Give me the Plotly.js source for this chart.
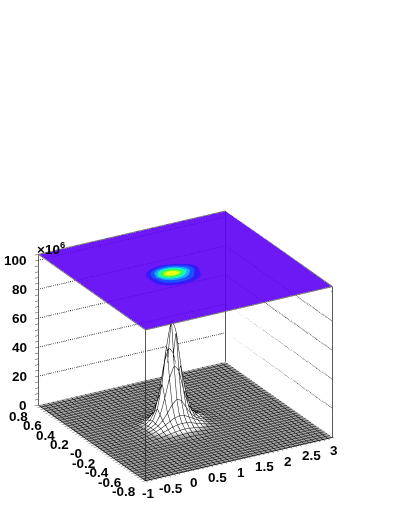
<!DOCTYPE html><html><head><script src="https://cdn.plot.ly/plotly-3.0.0.min.js"></script></head><body style="margin:0;background:#fff"><div id="g" style="width:399px;height:516px"></div><script>
// Histogram axes (millions on the value axis)
const xStart=-1, xStep=0.1, xCount=41;
const yStart=-0.8, yStep=0.04, yCount=41;
const zTop=104;
// Peak patch: rows are y, columns are x
const patchX=[-0.2,-0.1,0,0.1,0.2,0.3,0.4,0.5,0.6,0.7,0.8,0.9,1,1.1,1.2,1.3,1.4,1.5,1.6];
const patchY=[-0.28,-0.24,-0.2,-0.16,-0.12,-0.08,-0.04,0,0.04,0.08,0.12,0.16,0.2,0.24,0.28];
const patchZ=[
[0,0,0.1,0.1,0.2,0.3,0.4,0.5,0.6,0.7,0.6,0.5,0.4,0.3,0.2,0.1,0.1,0,0],
[0,0.1,0.2,0.4,0.6,0.9,1.2,1.5,1.7,1.8,1.7,1.5,1.2,0.9,0.6,0.4,0.2,0.1,0],
[0.1,0.2,0.5,0.8,1.2,1.7,2.3,2.8,3.2,3.4,3.2,2.8,2.3,1.7,1.2,0.8,0.5,0.2,0.1],
[0.1,0.3,0.7,1.2,1.9,2.8,3.8,4.9,5.7,6,5.7,4.9,3.8,2.8,1.9,1.2,0.7,0.3,0.1],
[0.2,0.5,1,1.6,2.6,4,5.7,7.6,9.2,10,9.4,7.8,5.8,4,2.6,1.6,1,0.5,0.2],
[0.2,0.4,0.9,1.6,2.8,4.6,7.5,12,17,20,18.5,13,8,4.8,3,1.8,1,0.5,0.2],
[0.2,0.4,0.8,1.5,2.8,4.6,10,21,34,42,38,24,13,7,3.6,2,1,0.5,0.2],
[0.2,0.4,0.8,1.4,2.6,5.5,13,30,56,73,64,40,21,10,5,2.6,1.4,0.6,0.3],
[0.2,0.4,0.8,1.3,2.4,4.6,10,23,42,52,47,31,17,9,5,2.6,1.4,0.6,0.3],
[0.1,0.3,0.6,1.1,2,3.5,7,14,22,26,24,17,10,6,3.4,2,1,0.5,0.2],
[0.1,0.2,0.4,0.7,1.2,2.1,3.6,6,8.5,10,9.2,6.6,4.2,2.8,1.8,1.1,0.6,0.3,0.1],
[0,0.1,0.2,0.4,0.7,1.1,1.7,2.5,3.2,3.5,3.3,2.7,2,1.4,1,0.6,0.3,0.2,0.1],
[0,0,0.1,0.2,0.3,0.5,0.8,1.1,1.4,1.5,1.4,1.2,0.9,0.6,0.4,0.2,0.1,0.1,0],
[0,0,0,0.1,0.1,0.2,0.3,0.4,0.5,0.6,0.5,0.4,0.3,0.2,0.1,0.1,0,0,0],
[0,0,0,0,0.1,0.1,0.1,0.2,0.2,0.2,0.2,0.2,0.1,0.1,0.1,0,0,0,0]];
const xMajor=[-1,-0.5,0,0.5,1,1.5,2,2.5,3];
const yMajor=[-0.8,-0.6,-0.4,-0.2,0,0.2,0.4,0.6,0.8];
const yText=['-0.8','-0.6','-0.4','-0.2','-0','0.2','0.4','0.6','0.8'];
const zMajor=[0,20,40,60,80,100];
const zGrid=[20,40,60,80,100];
const paletteStops=[[0,'#5c00f6'],[0.03,'#5c00f6'],[0.03,'#2000f8'],[0.06,'#2000f8'],[0.06,'#0040ff'],[0.11,'#0040ff'],[0.11,'#00a0ff'],[0.18,'#00a0ff'],[0.18,'#00f0c0'],[0.27,'#00f0c0'],[0.27,'#10ff50'],[0.38,'#10ff50'],[0.38,'#80ff00'],[0.48,'#80ff00'],[0.48,'#e8ff00'],[1,'#e8ff00']];

const xs=Array.from({length:xCount},(_,i)=>+(xStart+i*xStep).toFixed(3));
const ys=Array.from({length:yCount},(_,i)=>+(yStart+i*yStep).toFixed(3));
const zs=ys.map(y=>xs.map(x=>{
  const r=patchY.findIndex(v=>Math.abs(v-y)<1e-6), c=patchX.findIndex(v=>Math.abs(v-x)<1e-6);
  return (r>=0&&c>=0)?patchZ[r][c]:0;
}));
const zt=ys.map(()=>xs.map(()=>zTop));
const xa=xs[0],xb=xs[xCount-1],ya=ys[0],yb=ys[yCount-1];
function line(px,py,pz,color,width,dash){return {type:'scatter3d',mode:'lines',x:px,y:py,z:pz,line:{color:color,width:width,dash:dash||'solid'},hoverinfo:'skip',showlegend:false};}
const mesh=(col,w)=>({show:true,color:col,width:w,highlight:false});
const flat={ambient:1,diffuse:0,specular:0,roughness:1,fresnel:0};
const traces=[
 {type:'surface',x:xs,y:ys,z:zs,cmin:0,cmax:73,showscale:false,colorscale:[[0,'#a4a4a4'],[0.012,'#a4a4a4'],[0.035,'#fff'],[1,'#fff']],lighting:flat,hoverinfo:'skip',
  contours:{x:Object.assign(mesh('#000',2),{start:xa,end:xb,size:xStep}),y:Object.assign(mesh('#000',2),{start:ya,end:yb,size:yStep}),z:{show:false}}},
 {type:'surface',x:xs,y:ys,z:zt,surfacecolor:zs,cmin:0,cmax:100,showscale:false,colorscale:paletteStops,lighting:flat,opacity:0.9,hoverinfo:'skip',contours:{z:{show:false}}}
];
zGrid.forEach(z=>{
 traces.push(line([xa,xb,xb],[yb,yb,ya],[z,z,z],'#000',2,'dot'));
});
[[xa,yb],[xa,ya],[xb,yb],[xb,ya]].forEach(c=>traces.push(line([c[0],c[0]],[c[1],c[1]],[0,zTop],'#222',1.5)));
traces.push(line([xa,xb,xb,xa,xa],[ya,ya,yb,yb,ya],[zTop,zTop,zTop,zTop,zTop],'#777',2));
const minor=(a,b,s)=>{const o=[];for(let i=0;a+i*s<=b+1e-9;i++)o.push(+(a+i*s).toFixed(3));return o;};
const tf={family:'Liberation Sans, Arial, sans-serif',size:13.5,color:'#000',weight:700};
const lab=(x,y,z,text,xanchor,xshift,yshift)=>({x,y,z,text,showarrow:false,xanchor,yanchor:'middle',xshift,yshift,font:tf});
const sceneLabels=[
 ...xMajor.map(v=>lab(v,ya,0,String(v),'center',2,-13)),
 ...yMajor.map((v,i)=>lab(xa,v,0,yText[i],'right',-8,-11)),
 ...zMajor.map(v=>lab(xa,yb,v,String(v),'right',-9,0))
];
const ax={showgrid:false,zeroline:false,showbackground:false,showspikes:false,showline:true,linecolor:'#555',linewidth:2,ticks:'outside',ticklen:4,tickwidth:1,tickcolor:'#333',showticklabels:false,title:{text:''}};
Plotly.newPlot('g',traces,{width:399,height:516,margin:{l:0,r:0,t:0,b:0},paper_bgcolor:'#fff',showlegend:false,
 annotations:[{xref:'paper',yref:'paper',x:35/399,y:1-248/516,xanchor:'left',yanchor:'middle',showarrow:false,text:'×10<sup>6</sup>',font:tf}],
 scene:{domain:{x:[0,1],y:[0,1]},aspectmode:'manual',aspectratio:{x:0.835,y:0.835,z:0.639},annotations:sceneLabels,
  xaxis:Object.assign({},ax,{range:[xa,xb],tickmode:'array',tickvals:minor(-1,3,0.1)}),
  yaxis:Object.assign({},ax,{range:[ya,yb],tickmode:'array',tickvals:minor(-0.8,0.8,0.04)}),
  zaxis:Object.assign({},ax,{range:[0,zTop],tickmode:'array',tickvals:minor(0,104,4)}),
  camera:{projection:{type:'orthographic'},up:{x:0,y:0,z:1},center:{x:0.1155,y:0.0921,z:0.3116},eye:{x:-0.9625,y:-1.788,z:1.27}}}
},{displayModeBar:false});
</script></body></html>
